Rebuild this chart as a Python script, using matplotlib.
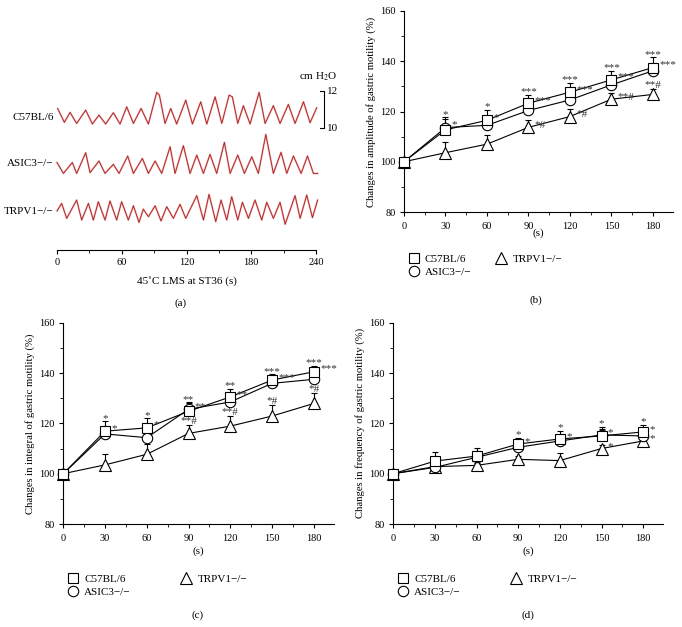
import matplotlib
matplotlib.use('Agg')
import matplotlib.pyplot as plt
from matplotlib.lines import Line2D
from matplotlib.ticker import MultipleLocator

plt.rcParams['font.family'] = ['Liberation Serif', 'DejaVu Serif']
plt.rcParams['mathtext.fontset'] = 'stix'
plt.rcParams['font.size'] = 7.5
plt.rcParams['axes.linewidth'] = 0.8

# ---- panel (a): pressure traces, peaks and troughs
c57_t = [0.6, 6.8, 12.1, 18.2, 26.6, 32.8, 38.9, 45.1, 52.2, 58.4, 64.6, 70.8, 77.9, 84.7,
         92.4, 94.9, 100.1, 105.4, 110.9, 119.3, 125.5, 133.2, 138.8, 146.5, 152.7, 159.5,
         162.5, 167.5, 172.7, 178.9, 187.3, 192.8, 200.5, 206.7, 214.4, 220.6, 228.4, 234.5, 240.7]
c57_p = [11.06, 10.31, 10.85, 10.25, 10.97, 10.22, 10.70, 10.22, 10.83, 10.22, 11.15, 10.25,
         11.06, 10.22, 11.93, 11.78, 10.25, 11.06, 10.22, 11.51, 10.22, 11.42, 10.22, 11.69,
         10.25, 11.78, 11.69, 10.25, 11.21, 10.22, 11.93, 10.25, 11.21, 10.25, 11.28, 10.25,
         11.42, 10.29, 11.10]

asic_t = [0.0, 5.9, 14.2, 18.2, 26.6, 30.6, 38.9, 44.5, 52.2, 57.5, 65.5, 70.8, 79.1, 84.7,
          90.9, 97.0, 104.8, 109.4, 117.1, 123.3, 129.5, 135.7, 141.8, 148.0, 155.1, 160.4,
          167.5, 173.7, 180.5, 186.6, 193.5, 200.5, 207.6, 212.9, 219.1, 226.2, 232.1, 237.6, 241.5]
asic_p = [10.79, 10.2, 10.79, 10.2, 11.32, 10.24, 10.87, 10.2, 10.69, 10.2, 11.14, 10.2,
          11.01, 10.2, 10.87, 10.2, 11.64, 10.2, 11.70, 10.2, 11.19, 10.2, 11.23, 10.2,
          11.88, 10.2, 11.19, 10.2, 11.10, 10.2, 12.31, 10.2, 11.34, 10.2, 11.14, 10.2,
          11.14, 10.2, 10.2]

trpv_t = [0.0, 4.3, 9.0, 18.2, 22.9, 29.1, 33.7, 38.3, 44.5, 49.1, 55.3, 59.9, 66.1, 70.8,
          76.0, 80.0, 84.7, 90.9, 96.4, 101.7, 107.8, 114.0, 119.3, 129.5, 135.7, 140.9,
          147.1, 152.0, 157.3, 161.9, 167.5, 171.8, 177.4, 183.5, 189.7, 194.4, 200.5, 206.7,
          211.4, 220.6, 225.3, 231.4, 236.7, 241.5]
trpv_p = [10.78, 11.19, 10.38, 11.37, 10.29, 11.19, 10.29, 11.28, 10.29, 11.32, 10.29, 11.28,
          10.29, 11.06, 10.16, 10.88, 10.47, 11.06, 10.24, 11.01, 10.38, 11.14, 10.38, 11.61,
          10.29, 11.68, 10.2, 11.37, 10.29, 11.55, 10.29, 11.25, 10.38, 11.37, 10.29, 11.25,
          10.38, 11.25, 10.06, 11.61, 10.38, 11.64, 10.42, 11.37]

trace_names = ['C57BL/6', 'ASIC3\u2212/\u2212', 'TRPV1\u2212/\u2212']

# ---- panels (b)-(d): % change vs time
times = [0, 30, 60, 90, 120, 150, 180]

amp_c57 = [100, 112.7, 116.5, 123.3, 127.7, 132.6, 137.5]
amp_c57_err = [0, 5.0, 4.1, 3.3, 3.6, 3.7, 4.0]
amp_asic = [100, 113.6, 114.5, 120.4, 124.6, 130.6, 136.2]
amp_asic_err = [0, 3.5, 3.0, 2.5, 2.8, 2.6, 3.0]
amp_trpv = [100, 103.6, 107.0, 113.7, 118.0, 124.9, 126.8]
amp_trpv_err = [0, 4.2, 3.6, 3.0, 3.0, 2.6, 2.2]

int_c57 = [100, 116.9, 118.2, 124.8, 130.5, 137.2, 140.5]
int_c57_err = [0, 3.9, 3.8, 3.5, 3.3, 2.3, 2.4]
int_asic = [100, 115.8, 114.3, 125.6, 128.5, 135.9, 137.5]
int_asic_err = [0, 3.0, 3.0, 2.5, 2.5, 2.0, 2.0]
int_trpv = [100, 103.5, 107.7, 116.0, 118.9, 122.9, 127.9]
int_trpv_err = [0, 4.3, 3.9, 3.3, 3.9, 4.4, 4.1]

frq_c57 = [100, 105.0, 107.0, 111.8, 113.8, 115.0, 116.6]
frq_c57_err = [0, 3.5, 3.3, 2.5, 3.2, 3.7, 2.7]
frq_asic = [100, 102.5, 106.5, 110.5, 113.0, 115.4, 115.0]
frq_asic_err = [0, 1.5, 2.5, 2.0, 2.0, 2.5, 2.0]
frq_trpv = [100, 102.8, 103.3, 105.7, 105.2, 110.0, 113.0]
frq_trpv_err = [0, 1.0, 1.0, 1.5, 2.9, 1.5, 1.5]

amp_sig_wt = ['', '*', '*', '***', '***', '***', '***']
amp_sig_ko = ['', '', '', '*#', '*#', '**#', '**#']
int_sig_wt = ['', '*', '*', '**', '**', '***', '***']
int_sig_ko = ['', '', '', '**#', '**#', '*#', '*#']
frq_sig_wt = ['', '', '', '*', '*', '*', '*']
frq_sig_ko = ['', '', '', '', '', '*', '*']

fig = plt.figure(figsize=(6.82, 6.27), dpi=100)


def rect(x0, y0, x1, y1):
    return [x0 / 682, 1 - y1 / 627, (x1 - x0) / 682, (y1 - y0) / 627]


# ---------------- (a)
ax = fig.add_axes(rect(57, 60, 316, 250))
offsets = [0, -2.65, -5.26]
label_y = [10.59, 8.11, 5.51]
for (t, p), off, name, ly in zip([(c57_t, c57_p), (asic_t, asic_p), (trpv_t, trpv_p)],
                                 offsets, trace_names, label_y):
    pp = [v + off for v in p]
    ax.plot(t, pp, color='#e88080', lw=1.4, alpha=0.6, clip_on=False, solid_joinstyle='round')
    ax.plot(t, pp, color='#a81e1e', lw=0.6, clip_on=False, solid_joinstyle='round')
    ax.text(-3, ly, name, ha='right', va='center', fontsize=8)
ax.set_xlim(0, 240)
ax.set_ylim(3.41, 13.68)
for s in ['top', 'right', 'left']:
    ax.spines[s].set_visible(False)
ax.set_yticks([])
ax.xaxis.set_major_locator(MultipleLocator(60))
ax.xaxis.set_minor_locator(MultipleLocator(30))
ax.tick_params(axis='x', which='major', length=3, width=0.8, pad=3)
ax.tick_params(axis='x', which='minor', length=2, width=0.6)
ax.set_xlabel('45\u02daC LMS at ST36 (s)', fontsize=8, labelpad=6)
# scale bar
ax.plot([244, 247, 247, 244], [12, 12, 10, 10], color='black', lw=0.8, clip_on=False)
ax.text(250, 12, '12', ha='left', va='center', fontsize=8)
ax.text(250, 10, '10', ha='left', va='center', fontsize=8)
ax.text(242, 12.76, 'cm H$_2$O', ha='center', va='center', fontsize=8)
fig.text(181 / 682, 1 - 303 / 627, '(a)', ha='center', va='center', fontsize=8)

star_kw = dict(textcoords='offset points', fontsize=8, color='#333333')


def line_panel(box, c57, c57e, asic, asice, trpv, trpve, sig_wt, sig_ko, ko_place,
               ylabel, leg_anchor, colspace, xlabelpad, tag_xy, tag):
    ax = fig.add_axes(rect(*box))
    kw = dict(color='black', lw=0.8, markerfacecolor='white', markeredgecolor='black',
              markeredgewidth=0.8, clip_on=False)
    for y, e, m, ms in [(trpv, trpve, '^', 8), (asic, asice, 'o', 7.5), (c57, c57e, 's', 6.5)]:
        ax.errorbar(times, y, yerr=[[0] * len(e), e], fmt='none', ecolor='black',
                    elinewidth=0.8, capsize=2.4, capthick=0.8, zorder=2)
        ax.plot(times, y, marker=m, markersize=ms, zorder=3, **kw)
    for i, t in enumerate(times):
        if sig_wt[i]:
            ax.annotate(sig_wt[i], (t, c57[i] + c57e[i]), xytext=(0, -1),
                        ha='center', va='bottom', **star_kw)
            ax.annotate(sig_wt[i], (t, max(c57[i], asic[i])), xytext=(4.5, 2),
                        ha='left', va='center', **star_kw)
        if sig_ko[i]:
            if ko_place[i] == 'up':
                ax.annotate(sig_ko[i], (t, trpv[i] + trpve[i]), xytext=(0, -0.5),
                            ha='center', va='bottom', **star_kw)
            else:
                ax.annotate(sig_ko[i], (t, trpv[i]), xytext=(4.5, 1.5),
                            ha='left', va='center', **star_kw)
    ax.set_xlim(0, 194.5)
    ax.set_ylim(80, 160)
    for s in ['top', 'right']:
        ax.spines[s].set_visible(False)
    ax.xaxis.set_major_locator(MultipleLocator(30))
    ax.xaxis.set_minor_locator(MultipleLocator(15))
    ax.yaxis.set_major_locator(MultipleLocator(20))
    ax.yaxis.set_minor_locator(MultipleLocator(10))
    ax.tick_params(which='major', length=3, width=0.8, pad=3, labelsize=7.5)
    ax.tick_params(which='minor', length=2, width=0.6)
    ax.tick_params(axis='x', which='major', pad=4)
    ax.set_xlabel('(s)', fontsize=8, labelpad=xlabelpad)
    ax.set_ylabel(ylabel, fontsize=7.7, labelpad=3)
    handles = [Line2D([], [], ls='none', marker='s', ms=6.5, mfc='white', mec='black', mew=0.8),
               Line2D([], [], ls='none', marker='o', ms=7.5, mfc='white', mec='black', mew=0.8),
               Line2D([], [], ls='none', marker='^', ms=8, mfc='white', mec='black', mew=0.8)]
    ax.legend(handles, trace_names, ncol=2, loc='upper left', bbox_to_anchor=leg_anchor,
              frameon=False, borderpad=0, handlelength=1.0, handletextpad=0.5,
              columnspacing=colspace, labelspacing=0.35, fontsize=8)
    fig.text(tag_xy[0] / 682, 1 - tag_xy[1] / 627, tag, ha='center', va='center', fontsize=8)
    return ax


line_panel((404, 11, 673, 212), amp_c57, amp_c57_err, amp_asic, amp_asic_err,
           amp_trpv, amp_trpv_err, amp_sig_wt, amp_sig_ko,
           [None, None, None, 'right', 'right', 'right', 'up'],
           'Changes in amplitude of gastric motility (%)', (-0.005, -0.18), 2.2, -1.5,
           (536, 300), '(b)')
line_panel((63.3, 322.7, 334, 524), int_c57, int_c57_err, int_asic, int_asic_err,
           int_trpv, int_trpv_err, int_sig_wt, int_sig_ko,
           ['up'] * 7,
           'Changes in integral of gastric motility (%)', (-0.005, -0.22), 4.5, 2.5,
           (198, 615), '(c)')
line_panel((393.3, 322.7, 663.3, 524), frq_c57, frq_c57_err, frq_asic, frq_asic_err,
           frq_trpv, frq_trpv_err, frq_sig_wt, frq_sig_ko,
           ['right'] * 7,
           'Changes in frequency of gastric motility (%)', (-0.005, -0.22), 4.5, 2.5,
           (528, 615), '(d)')

fig.savefig('out.png', dpi=100)
